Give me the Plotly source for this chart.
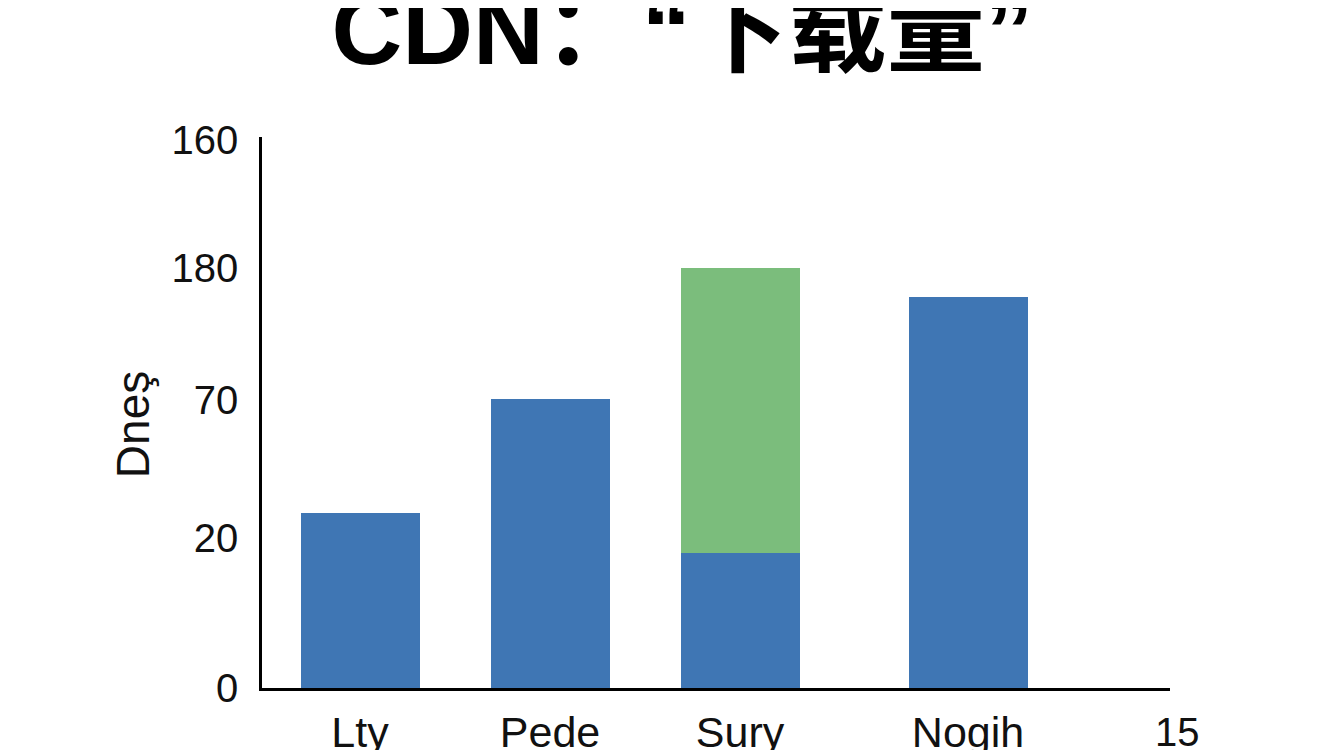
import plotly.graph_objects as go

# category slots along the x axis (the picture spaces them unevenly)
categories = ["Lty", "Pede", "Sury", "Nogih"]
slots = [1, 2, 3, 4.2]

# bar heights, in the chart's own (odd) y units
blue_values = [175, 289, 135, 391]
green_values = [0, 0, 285, 0]

# the y tick labels as printed, bottom to top, and where they sit
ytick_pos = [0, 150, 288, 420, 548]
ytick_text = ["0", "20", "70", "180", "160"]

extra_label = "15"
extra_slot = 5.3

BLUE = "#3F76B4"
GREEN = "#7BBD7C"
FONT = "Liberation Sans, Arial, Noto Sans CJK SC, sans-serif"

x_range = [0.484, 5.263]

fig = go.Figure()
fig.add_trace(go.Bar(x=slots, y=blue_values, width=0.626, marker_color=BLUE,
                     marker_line_width=0, showlegend=False))
fig.add_trace(go.Bar(x=slots, y=green_values, width=0.626, marker_color=GREEN,
                     marker_line_width=0, showlegend=False))

# page body adds an 8px offset, so margins are trimmed by that much
fig.update_layout(
    barmode="stack",
    width=1344, height=750,
    paper_bgcolor="white", plot_bgcolor="white",
    margin=dict(l=254, r=182, t=129, b=70),
    font=dict(family=FONT, color="#111111"),
    title=dict(text="<b>CDN：“下载量”</b>", x=0.502, xanchor="center",
               y=0.971, yanchor="middle", yref="container",
               font=dict(size=98, color="black", family=FONT)),
)

fig.update_xaxes(
    range=x_range, tickvals=slots, ticktext=categories,
    showline=True, linecolor="black", linewidth=2.5,
    showgrid=False, zeroline=False, ticks="", automargin=False,
    tickfont=dict(size=43), ticklabelstandoff=5,
)
fig.update_yaxes(
    range=[0, 551], tickvals=ytick_pos, ticktext=ytick_text,
    showline=True, linecolor="black", linewidth=2.5,
    showgrid=False, zeroline=False, ticks="", automargin=False,
    tickfont=dict(size=40), ticklabelstandoff=13,
)

# y axis title, placed by hand a little below the plot's middle
fig.add_annotation(x=0, y=0.477, xref="paper", yref="paper", text="Dneş",
                   textangle=-90, showarrow=False, xanchor="center",
                   yanchor="middle", xshift=-129,
                   font=dict(size=46, family=FONT, color="#111111"))

# the stray "15" sits just past the end of the x axis
fig.add_annotation(x=(extra_slot - x_range[0]) / (x_range[1] - x_range[0]), y=0,
                   xref="paper", yref="paper", text=extra_label,
                   showarrow=False, xanchor="center", yanchor="top", yshift=-20,
                   font=dict(size=40, family=FONT, color="#111111"))

fig.write_html("out.html")
